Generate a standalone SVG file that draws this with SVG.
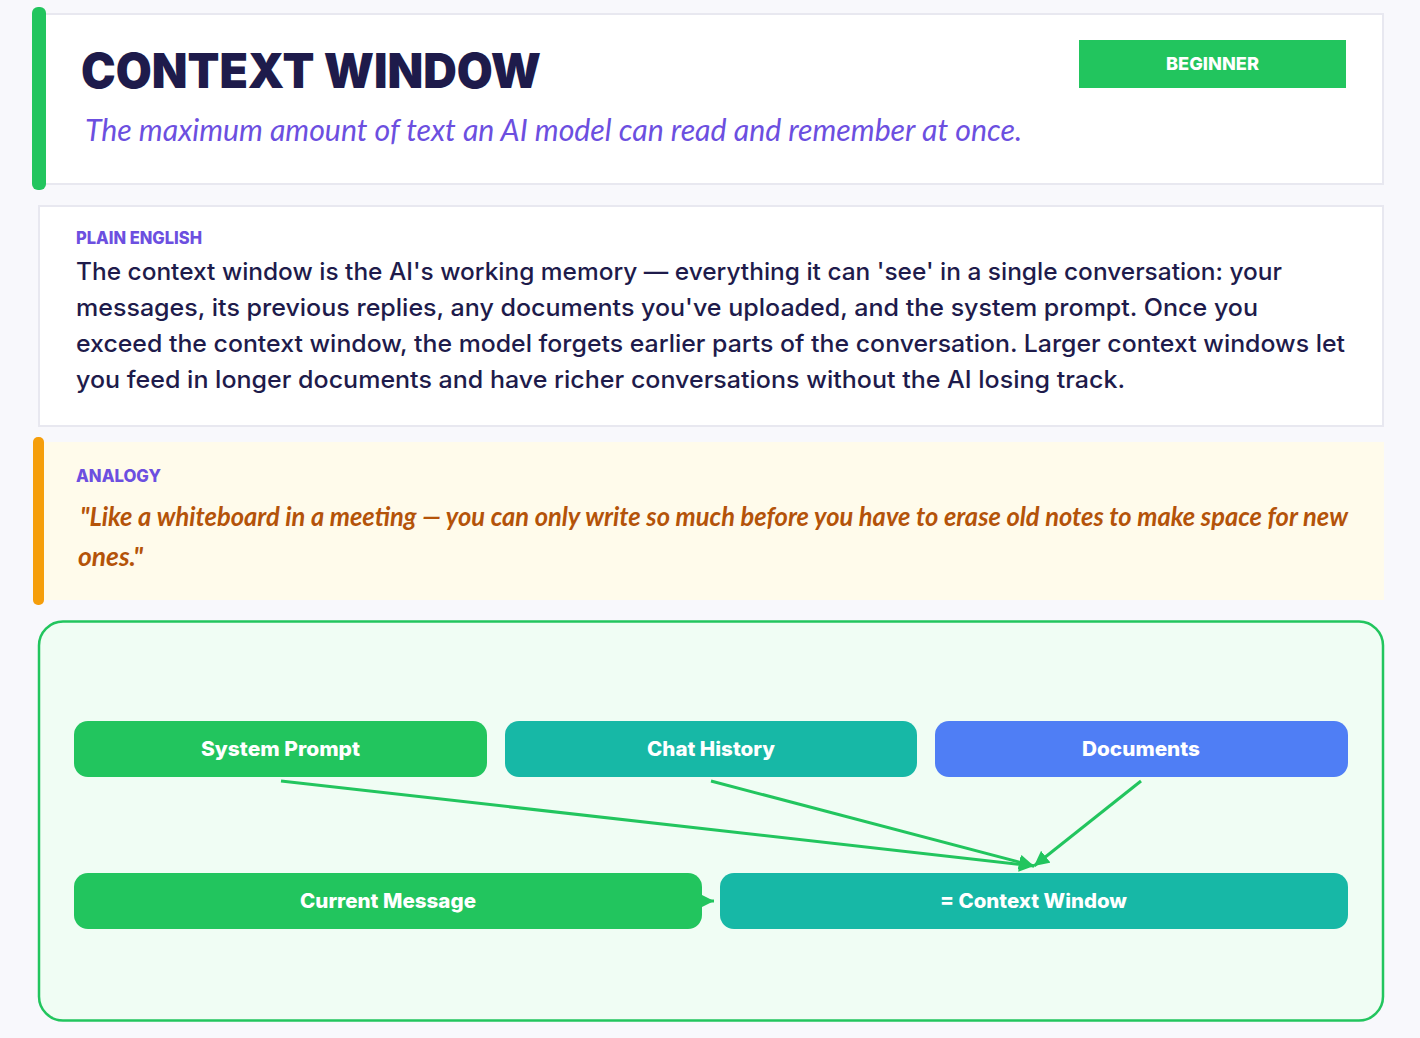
<svg xmlns="http://www.w3.org/2000/svg" width="1420" height="1038" viewBox="0 0 1420 1038">
<style>
.panel{fill:#fff;stroke:#e8e8f0;stroke-width:2}
.sans{font-family:"Inter","Noto Sans","Liberation Sans",sans-serif}
.hand{font-family:"Lato","Noto Sans",sans-serif;font-style:italic}
.label{font-size:17px;font-weight:800;fill:#6c4fe0}
.body{font-size:24px;font-weight:500;fill:#1e1b4b}
.node{font-size:20px;font-weight:800;fill:#fff}
.conn{stroke:#22c55e;stroke-width:3;fill:none;marker-end:url(#arrow)}
</style>
<defs>
<marker id="arrow" viewBox="0 0 6 6" refX="6" refY="3" markerWidth="5" markerHeight="5" orient="auto">
<path d="M0 0L6 3L0 6z" fill="#22c55e"/>
</marker>
</defs>
<rect width="1420" height="1038" fill="#f8f8fc"/>
<g id="header">
<rect class="panel" x="39" y="14" width="1344" height="170"/>
<rect x="32" y="7" width="14" height="183" rx="6" fill="#22c55e"/>
<text class="sans" x="81" y="88" font-size="48" font-weight="900" fill="#1e1b4b" textLength="460" lengthAdjust="spacingAndGlyphs">CONTEXT WINDOW</text>
<text class="hand" x="85" y="141" font-size="30" fill="#6c4fe0" textLength="937" lengthAdjust="spacingAndGlyphs">The maximum amount of text an AI model can read and remember at once.</text>
<rect x="1079" y="40" width="267" height="48" fill="#22c55e"/>
<text class="sans" x="1166" y="70" font-size="18" font-weight="800" fill="#fff" textLength="93" lengthAdjust="spacingAndGlyphs">BEGINNER</text>
</g>
<g id="plain-english">
<rect class="panel" x="39" y="206" width="1344" height="220"/>
<text class="sans label" x="76" y="244" textLength="126" lengthAdjust="spacingAndGlyphs">PLAIN ENGLISH</text>
<text class="sans body" x="76" y="280" textLength="1206" lengthAdjust="spacingAndGlyphs">The context window is the AI's working memory — everything it can 'see' in a single conversation: your</text>
<text class="sans body" x="76" y="316" textLength="1182" lengthAdjust="spacingAndGlyphs">messages, its previous replies, any documents you've uploaded, and the system prompt. Once you</text>
<text class="sans body" x="76" y="352" textLength="1269" lengthAdjust="spacingAndGlyphs">exceed the context window, the model forgets earlier parts of the conversation. Larger context windows let</text>
<text class="sans body" x="76" y="388" textLength="1049" lengthAdjust="spacingAndGlyphs">you feed in longer documents and have richer conversations without the AI losing track.</text>
</g>
<g id="analogy">
<rect x="38" y="442" width="1346" height="158" fill="#fffbeb"/>
<rect x="33" y="437" width="11" height="168" rx="5" fill="#f59e0b"/>
<text class="sans label" x="76" y="482" textLength="85" lengthAdjust="spacingAndGlyphs">ANALOGY</text>
<text class="hand" x="80" y="526" font-size="26" font-weight="700" fill="#b45309" textLength="1268" lengthAdjust="spacingAndGlyphs">"Like a whiteboard in a meeting — you can only write so much before you have to erase old notes to make space for new</text>
<text class="hand" x="78" y="566" font-size="26" font-weight="700" fill="#b45309" textLength="65" lengthAdjust="spacingAndGlyphs">ones."</text>
</g>
<g id="diagram-frame">
<rect x="39" y="621.500" width="1344" height="399" rx="24" fill="#f0fdf4" stroke="#22c55e" stroke-width="2.500"/>
</g>
<g id="connectors">
<line class="conn" x1="281" y1="781" x2="1034" y2="866"/>
<line class="conn" x1="711" y1="781" x2="1034" y2="866"/>
<line class="conn" x1="1141" y1="781" x2="1034" y2="866"/>
<line class="conn" x1="690" y1="901" x2="714" y2="901"/>
</g>
<g id="node-system-prompt">
<rect x="74" y="721" width="413" height="56" rx="14" fill="#22c55e"/>
<text class="sans node" x="201" y="756" textLength="159" lengthAdjust="spacingAndGlyphs">System Prompt</text>
</g>
<g id="node-chat-history">
<rect x="505" y="721" width="412" height="56" rx="14" fill="#17b8a6"/>
<text class="sans node" x="647" y="756" textLength="128" lengthAdjust="spacingAndGlyphs">Chat History</text>
</g>
<g id="node-documents">
<rect x="935" y="721" width="413" height="56" rx="14" fill="#4f7ef5"/>
<text class="sans node" x="1082" y="756" textLength="118" lengthAdjust="spacingAndGlyphs">Documents</text>
</g>
<g id="node-current-message">
<rect x="74" y="873" width="628" height="56" rx="14" fill="#22c55e"/>
<text class="sans node" x="300" y="908" textLength="176" lengthAdjust="spacingAndGlyphs">Current Message</text>
</g>
<g id="node-context-window">
<rect x="720" y="873" width="628" height="56" rx="14" fill="#17b8a6"/>
<text class="sans node" x="940" y="908" textLength="187" lengthAdjust="spacingAndGlyphs">= Context Window</text>
</g>
</svg>
